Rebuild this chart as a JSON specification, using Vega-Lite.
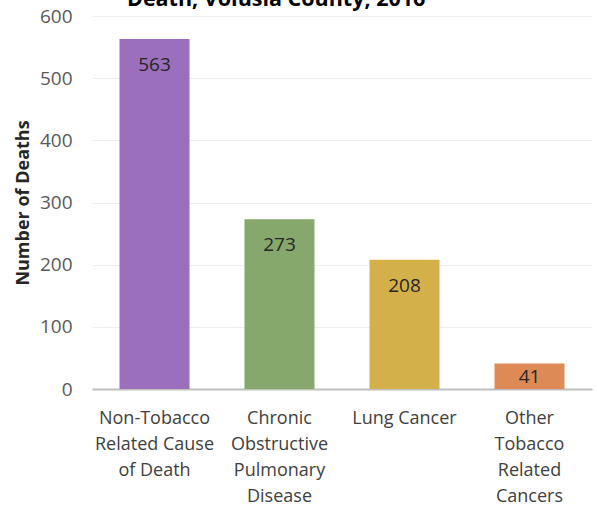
{
  "$schema": "https://vega.github.io/schema/vega-lite/v6.json",
  "width": 500,
  "height": 373,
  "autosize": {"type": "none"},
  "padding": {"left": 92, "top": 16, "right": 5, "bottom": 121},
  "background": "white",
  "title": {
    "text": "Death, Volusia County, 2016",
    "font": "Open Sans",
    "fontSize": 21.5,
    "fontWeight": "bold",
    "color": "#000000",
    "anchor": "start",
    "frame": "group",
    "dx": 35,
    "baseline": "alphabetic",
    "offset": 0,
    "dy": 20
  },
  "config": {
    "view": {"stroke": null},
    "font": "Open Sans"
  },
  "data": {
    "values": [
      {"cause": "Non-Tobacco Related Cause of Death", "deaths": 563},
      {"cause": "Chronic Obstructive Pulmonary Disease", "deaths": 273},
      {"cause": "Lung Cancer", "deaths": 208},
      {"cause": "Other Tobacco Related Cancers", "deaths": 41}
    ]
  },
  "encoding": {
    "x": {
      "field": "cause",
      "type": "nominal",
      "sort": null,
      "scale": {"paddingInner": 0.44, "paddingOuter": 0.22},
      "axis": {
        "title": null,
        "labelAngle": 0,
        "labelFont": "Open Sans",
        "labelFontSize": 18,
        "labelColor": "#404040",
        "labelLineHeight": 26,
        "labelBaseline": "top",
        "labelPadding": 20,
        "ticks": false,
        "domainColor": "#bfbfbf",
        "domainWidth": 2,
        "labelLimit": 0,
        "labelExpr": "datum.value == 'Non-Tobacco Related Cause of Death' ? ['Non-Tobacco', 'Related  Cause', 'of Death'] : datum.value == 'Chronic Obstructive Pulmonary Disease' ? ['Chronic', 'Obstructive', 'Pulmonary', 'Disease'] : datum.value == 'Other Tobacco Related Cancers' ? ['Other', 'Tobacco', 'Related', 'Cancers'] : datum.value"
      }
    },
    "y": {
      "field": "deaths",
      "type": "quantitative",
      "scale": {"domain": [0, 600], "nice": false},
      "axis": {
        "title": "Number of Deaths",
        "titleFont": "Open Sans",
        "titleFontSize": 18,
        "titleFontWeight": "bold",
        "titleColor": "#262626",
        "titlePadding": 7,
        "values": [0, 100, 200, 300, 400, 500, 600],
        "labelFont": "Open Sans",
        "labelFontSize": 19,
        "labelColor": "#595959",
        "labelPadding": 20,
        "ticks": false,
        "domain": false,
        "gridColor": "#efefef",
        "gridWidth": 1
      }
    }
  },
  "layer": [
    {
      "mark": {"type": "bar"},
      "encoding": {
        "color": {
          "field": "cause",
          "type": "nominal",
          "sort": null,
          "legend": null,
          "scale": {
            "domain": [
              "Non-Tobacco Related Cause of Death",
              "Chronic Obstructive Pulmonary Disease",
              "Lung Cancer",
              "Other Tobacco Related Cancers"
            ],
            "range": ["#9b6fbb", "#86a86c", "#d4b04b", "#de8a56"]
          }
        }
      }
    },
    {
      "transform": [{"filter": "datum.deaths >= 100"}],
      "mark": {"type": "text", "dy": 26, "fontSize": 19, "color": "#262626", "font": "Open Sans"},
      "encoding": {"text": {"field": "deaths", "type": "quantitative"}}
    },
    {
      "transform": [{"filter": "datum.deaths < 100"}],
      "mark": {"type": "text", "dy": 13, "fontSize": 19, "color": "#262626", "font": "Open Sans"},
      "encoding": {"text": {"field": "deaths", "type": "quantitative"}}
    }
  ]
}
